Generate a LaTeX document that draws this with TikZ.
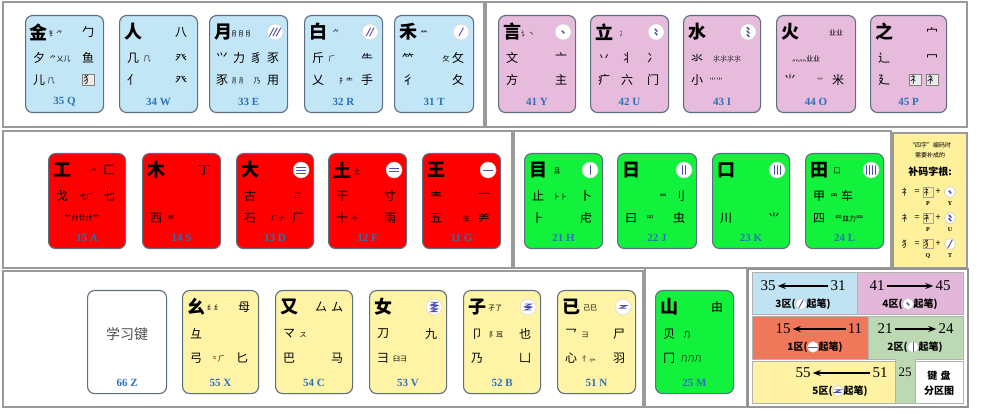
\documentclass[tikz,border=0pt]{standalone}
\usepackage{fontspec}
\setmainfont{Liberation Serif}
\newfontfamily\cjk{Noto Sans CJK SC}
\usetikzlibrary{arrows.meta}
\definecolor{kblue}{HTML}{C2E6F6}
\definecolor{kpink}{HTML}{E6BBDB}
\definecolor{kred}{HTML}{FF0000}
\definecolor{kgreen}{HTML}{12F23C}
\definecolor{kyel}{HTML}{FFF4A6}
\definecolor{kedge}{HTML}{5E6E80}
\definecolor{klab}{HTML}{2C72B8}
\definecolor{pframe}{HTML}{9A9A9A}
\definecolor{zblue}{HTML}{BFE3F3}
\definecolor{zpink}{HTML}{E3B7D9}
\definecolor{zred}{HTML}{F0785A}
\definecolor{zgreen}{HTML}{BDD9B3}
\definecolor{zyel}{HTML}{FFF3A3}
\definecolor{legy}{HTML}{FFF19C}
\newcounter{rc}
\tikzset{
  keyb/.style={draw=kedge,line width=1.1pt,rounded corners=7pt,inner sep=0pt,anchor=north west},
  pnl/.style={draw=pframe,line width=1.5pt},
  mainc/.style={font=\cjk\bfseries\fontsize{18}{18}\selectfont,inner sep=0pt},
  rtf/.style={font=\cjk\fontsize{12}{12}\selectfont,inner sep=0pt},
  sm/.style={font=\cjk\fontsize{7}{7}\selectfont,inner sep=0pt},
  bx/.style={font=\cjk\fontsize{10}{10}\selectfont,inner sep=1pt,draw=gray,fill=gray!15},
  lab/.style={font=\bfseries\fontsize{11}{11}\selectfont,text=klab,inner sep=0pt},
  icn/.style={circle,fill=white,draw=gray!40,minimum size=16pt,inner sep=0pt},
  icm/.style={circle,fill=white,draw=gray!50,minimum size=11pt,inner sep=0pt},
  ics/.style={draw=gray!60!blue,line width=0.9pt,line cap=round},
  zone/.style={anchor=north west,inner sep=0pt,draw=gray!60,line width=0.6pt},
  znum/.style={font=\fontsize{15}{15}\selectfont,inner sep=0pt},
  ztx/.style={font=\cjk\bfseries\fontsize{10}{10}\selectfont,inner sep=0pt},
  zar/.style={-{Stealth[length=8pt,width=6pt]},line width=1.4pt,shorten >=2pt,shorten <=2pt},
  lgt/.style={font=\cjk\fontsize{6}{6}\selectfont,inner sep=0pt},
  lgc/.style={font=\cjk\fontsize{9}{9}\selectfont,inner sep=0pt},
  lgl/.style={font=\bfseries\fontsize{6}{6}\selectfont,inner sep=0pt}
}
% key: name x y w h fill label
\newcommand\wk[7]{\node[keyb,fill=#6,minimum width=#4pt,minimum height=#5pt] (#1) at (#2,#3) {};
  \node[lab] (#1L) at ([shift={(0,-11)}]#1.south) {#7};}
\newcommand\mc[2]{\node[mainc] (#1M) at ([shift={(14,17)}]#1.north west) {#2};}
\newcommand\rt[4][rtf]{\stepcounter{rc}\node[#1] (r\arabic{rc}) at ([shift={(#3)}]#2.north west) {#4};}
\newcommand\icS[2]{\foreach \ii in {1,...,#2}{\pgfmathsetmacro\icd{(\ii-(#2+1)/2)*3.4}
  \draw[ics] ([shift={(\icd+2.2,-4)}]#1.center) -- ([shift={(\icd-2.2,4)}]#1.center);}}
\newcommand\icD[2]{\foreach \ii in {1,...,#2}{\pgfmathsetmacro\icd{(\ii-(#2+1)/2)*3.6}
  \draw[ics,line width=1.5pt] ([shift={(-1,\icd-1.1)}]#1.center) -- ([shift={(1,\icd+1.1)}]#1.center);}}
\newcommand\icH[2]{\foreach \ii in {1,...,#2}{\pgfmathsetmacro\icd{(\ii-(#2+1)/2)*3}
  \draw[ics] ([shift={(-4.5,\icd)}]#1.center) -- ([shift={(4.5,\icd)}]#1.center);}}
\newcommand\icV[2]{\foreach \ii in {1,...,#2}{\pgfmathsetmacro\icd{(\ii-(#2+1)/2)*3}
  \draw[ics] ([shift={(\icd,-4.5)}]#1.center) -- ([shift={(\icd,4.5)}]#1.center);}}
\newcommand\icF[2]{\foreach \ii in {1,...,#2}{\pgfmathsetmacro\icd{(\ii-(#2+1)/2)*3.4}
  \draw[ics] ([shift={(-3,\icd-1.3)}]#1.center) -- ([shift={(3,\icd-1.3)}]#1.center) -- ([shift={(-3,\icd+1.3)}]#1.center) -- ([shift={(3,\icd+1.3)}]#1.center);}}
% icon: [style] name position type n
\newcommand\icon[5][icn]{\node[#1] (#2) at (#3) {};\csname ic#4\endcsname{#2}{#5}}
\newcommand\kic[3]{\icon{#1I}{[shift={(-13,17)}]#1.north east}{#2}{#3}}
\begin{document}
\begin{tikzpicture}[x=1pt,y=-1pt]
\useasboundingbox[fill=white] (0,0) rectangle (989,414);
% panels
\draw[pnl] (3,2) rectangle (484,127);
\draw[pnl] (486,2) rectangle (967,127);
\draw[pnl] (3,131) rectangle (512,268);
\draw[pnl] (514,131) rectangle (891,268);
\draw[pnl,fill=legy] (893,133) rectangle (967,268);
\draw[pnl] (3,271) rectangle (643,407);
\draw[pnl] (645,268) rectangle (747,407);
% ---------- zone 3 (blue)
\wk{Q}{25}{15}{78}{97}{kblue}{35 Q}
\mc{Q}{金}\rt[sm]{Q}{31,19}{钅⺈}\rt{Q}{63,17}{勹}
\rt{Q}{14,43}{夕}\rt[sm]{Q}{35,44}{⺈乂儿}\rt{Q}{63,43}{鱼}
\rt{Q}{14,65}{儿}\rt[sm]{Q}{26,66}{⺇}\rt[bx]{Q}{63,65}{犭}
\wk{W}{119}{15}{78}{97}{kblue}{34 W}
\mc{W}{人}\rt{W}{62,17}{八}
\rt{W}{14,43}{几}\rt[sm]{W}{28,44}{⺇}\rt{W}{62,43}{癶}
\rt{W}{14,65}{亻}\rt{W}{62,65}{癶}
\wk{E}{209}{15}{78}{97}{kblue}{33 E}
\mc{E}{月}\rt[sm]{E}{33,19}{⺝⺝⺝}\kic{E}{S}{3}
\rt{E}{13,43}{⺍}\rt{E}{30,43}{力}\rt{E}{47,43}{豸}\rt{E}{64,43}{豕}
\rt{E}{13,65}{豕}\rt[sm]{E}{30,66}{⺼⺼}\rt[sm]{E}{48,66}{乃}\rt{E}{64,65}{用}
\wk{R}{304}{15}{78}{97}{kblue}{32 R}
\mc{R}{白}\rt[sm]{R}{32,18}{⺈}\kic{R}{S}{2}
\rt{R}{14,43}{斤}\rt[sm]{R}{28,44}{⺁}\rt{R}{63,43}{⺧}
\rt{R}{14,65}{乂}\rt[sm]{R}{42,66}{扌⺧}\rt{R}{63,65}{手}
\wk{T}{394}{15}{79}{97}{kblue}{31 T}
\mc{T}{禾}\rt[sm]{T}{30,19}{⺮}\kic{T}{S}{1}
\rt{T}{14,43}{⺮}\rt[sm]{T}{52,44}{⺙}\rt{T}{64,43}{攵}
\rt{T}{14,65}{彳}\rt{T}{64,65}{夂}
% ---------- zone 4 (pink)
\wk{Y}{498}{15}{77}{97}{kpink}{41 Y}
\mc{Y}{言}\rt[sm]{Y}{30,19}{讠丶}\kic{Y}{D}{1}
\rt{Y}{14,43}{文}\rt{Y}{63,43}{亠}
\rt{Y}{14,65}{方}\rt{Y}{63,65}{主}
\wk{U}{590}{15}{78}{97}{kpink}{42 U}
\mc{U}{立}\rt[sm]{U}{33,19}{冫}\kic{U}{D}{2}
\rt{U}{14,43}{丷}\rt{U}{37,43}{丬}\rt{U}{63,43}{冫}
\rt{U}{14,65}{疒}\rt{U}{37,65}{六}\rt{U}{63,65}{门}
\wk{I}{683}{15}{77}{97}{kpink}{43 I}
\mc{I}{水}\kic{I}{D}{3}
\rt{I}{14,43}{氺}\rt[sm]{I}{44,44}{⺢⺢⺢⺢}
\rt{I}{14,65}{小}\rt[sm]{I}{33,66}{⺌⺌}
\wk{O}{776}{15}{79}{97}{kpink}{44 O}
\mc{O}{火}\rt[sm]{O}{60,18}{业业}
\rt[sm]{O}{30,44}{灬灬业业}
\rt{O}{14,65}{⺌}\rt[sm]{O}{44,66}{⺌}\rt{O}{62,65}{米}
\wk{P}{870}{15}{76}{97}{kpink}{45 P}
\mc{P}{之}\rt{P}{62,17}{宀}
\rt{P}{14,43}{辶}\rt{P}{62,43}{冖}
\rt{P}{14,65}{廴}\rt[bx]{P}{45,65}{礻}\rt[bx]{P}{62,65}{衤}
% ---------- zone 1 (red)
\wk{A}{48}{153}{77}{95}{kred}{15 A}
\mc{A}{工}\rt[sm]{A}{46,19}{⺈}\rt{A}{61,17}{匚}
\rt{A}{14,43}{戈}\rt[sm]{A}{38,44}{弋⺁}\rt{A}{61,43}{七}
\rt[sm]{A}{34,65}{艹廾廿廾艹}
\wk{S}{142}{153}{78}{95}{kred}{14 S}
\mc{S}{木}\rt{S}{62,17}{丁}
\rt{S}{14,65}{西}\rt[sm]{S}{29,66}{覀}
\wk{D}{236}{153}{77}{95}{kred}{13 D}
\mc{D}{大}\kic{D}{H}{3}
\rt{D}{14,43}{古}\rt[sm]{D}{62,43}{三}
\rt{D}{14,65}{石}\rt[sm]{D}{42,66}{⺁ナ}\rt{D}{62,65}{厂}
\wk{F}{328}{153}{78}{95}{kred}{12 F}
\mc{F}{土}\rt[sm]{F}{29,19}{士}\kic{F}{H}{2}
\rt{F}{14,43}{干}\rt{F}{62,43}{寸}
\rt{F}{14,65}{十}\rt[sm]{F}{27,66}{十}\rt{F}{62,65}{雨}
\wk{G}{422}{153}{78}{95}{kred}{11 G}
\mc{G}{王}\kic{G}{H}{1}
\rt{G}{14,43}{龶}\rt{G}{62,43}{一}
\rt{G}{14,65}{五}\rt[sm]{G}{44,66}{戋}\rt{G}{62,65}{⺶}
% ---------- zone 2 (green)
\wk{H}{524}{153}{78}{95}{kgreen}{21 H}
\mc{H}{目}\rt[sm]{H}{33,18}{且}\kic{H}{V}{1}
\rt{H}{14,43}{止}\rt[sm]{H}{36,44}{⺊⺊}\rt{H}{62,43}{卜}
\rt{H}{14,65}{⺊}\rt{H}{62,65}{虍}
\wk{J}{617}{153}{79}{95}{kgreen}{22 J}
\mc{J}{日}\kic{J}{V}{2}
\rt[sm]{J}{46,44}{⺜}\rt{J}{62,43}{刂}
\rt{J}{14,65}{曰}\rt[sm]{J}{33,66}{罒}\rt{J}{62,65}{虫}
\wk{K}{712}{153}{77}{95}{kgreen}{23 K}
\mc{K}{口}\kic{K}{V}{3}
\rt{K}{14,65}{川}\rt{K}{62,65}{⺌}
\wk{L}{805}{153}{78}{95}{kgreen}{24 L}
\mc{L}{田}\rt[sm]{L}{32,18}{囗}\kic{L}{V}{4}
\rt{L}{14,43}{甲}\rt[sm]{L}{29,44}{⺫}\rt{L}{42,43}{车}
\rt{L}{14,65}{四}\rt[sm]{L}{44,66}{罒皿力⺲}
\wk{M}{655}{290}{78}{103}{kgreen}{25 M}
\mc{M}{山}\rt{M}{62,17}{由}
\rt{M}{14,44}{贝}\rt[sm]{M}{32,45}{⺆}
\rt{M}{14,68}{冂}\rt[sm]{M}{36,69}{⺆⺆⺆}
% ---------- zone 5 (yellow)
\wk{Z}{87}{290}{79}{103}{white}{66 Z}
\node[font=\cjk\fontsize{14}{14}\selectfont,text=black!70,inner sep=0pt] (ZT) at ([shift={(0,-8)}]Z.center) {学习键};
\wk{X}{182}{290}{76}{103}{kyel}{55 X}
\mc{X}{幺}\rt[sm]{X}{32,18}{纟纟}\rt{X}{62,17}{母}
\rt{X}{14,44}{彑}
\rt{X}{14,68}{弓}\rt[sm]{X}{36,69}{⺀⺁}\rt{X}{60,68}{匕}
\wk{C}{275}{290}{77}{103}{kyel}{54 C}
\mc{C}{又}\rt{C}{46,17}{厶}\rt{C}{62,17}{ム}
\rt{C}{14,44}{マ}\rt[sm]{C}{28,45}{ス}
\rt{C}{14,68}{巴}\rt{C}{62,68}{马}
\wk{V}{369}{290}{77}{103}{kyel}{53 V}
\mc{V}{女}\kic{V}{F}{3}
\rt{V}{14,44}{刀}\rt{V}{62,44}{九}
\rt{V}{14,68}{彐}\rt[sm]{V}{31,69}{臼⺕}
\wk{B}{463}{290}{77}{103}{kyel}{52 B}
\mc{B}{子}\rt[sm]{B}{32,18}{孑了}\kic{B}{F}{2}
\rt{B}{14,44}{卩}\rt[sm]{B}{33,45}{阝耳}\rt{B}{62,44}{也}
\rt{B}{14,68}{乃}\rt{B}{62,68}{凵}
\wk{N}{557}{290}{78}{103}{kyel}{51 N}
\mc{N}{已}\rt[sm]{N}{33,18}{己巳}\kic{N}{F}{1}
\rt{N}{14,44}{乛}\rt[sm]{N}{28,45}{⺕}\rt{N}{62,44}{尸}
\rt{N}{14,68}{心}\rt[sm]{N}{32,69}{忄⺗}\rt{N}{62,68}{羽}
% ---------- legend
\node[lgt] (lg1) at (930,145) {“四字”编码时};
\node[lgt] (lg2) at (930,155) {需要补成的};
\node[font=\cjk\bfseries\fontsize{10}{10}\selectfont,inner sep=0pt] (lg3) at (930,172) {补码字根:};
\foreach \rw/\yy/\ch/\la/\lb/\tp/\nn in {1/192/礻/P/Y/D/1, 2/218/衤/P/U/D/2, 3/244/犭/Q/T/S/1}{
  \node[lgc] (le\rw a) at (906,\yy) {\ch};
  \node[lgc] (le\rw b) at (917,\yy) {=};
  \node[lgc,draw=gray!70,inner sep=0.6pt] (le\rw c) at (928,\yy) {\ch};
  \node[lgc] (le\rw d) at (938,\yy) {+};
  \icon[icm]{le\rw e}{950,\yy}{\tp}{\nn}
  \node[lgl] (le\rw f) at ([shift={(0,12)}]le\rw c.center) {\la};
  \node[lgl] (le\rw g) at ([shift={(0,12)}]le\rw e.center) {\lb};
}
% ---------- zone map
\node[zone,fill=zblue,minimum width=105pt,minimum height=42pt] (Z3) at (752,272) {};
\node[zone,fill=zpink,minimum width=106pt,minimum height=42pt] (Z4) at (857,272) {};
\node[zone,fill=zred,minimum width=116pt,minimum height=43pt] (Z1) at (752,316) {};
\filldraw[fill=zgreen,draw=gray!60,line width=0.6pt] (868,316) -- (963,316) -- (963,359) -- (915,359) -- (915,403) -- (895,403) -- (895,359) -- (868,359) -- cycle;
\node[zone,fill=zyel,minimum width=143pt,minimum height=42pt] (Z5) at (752,361) {};
\node[zone,fill=white,minimum width=48pt,minimum height=42pt] (ZW) at (915,361) {};
\draw[pnl,line width=1.8pt,draw=gray!85] (748,269) rectangle (968,407);
\node[znum] (n35) at (768,286) {35};\node[znum] (n31) at (838,286) {31};\draw[zar] (n31) -- (n35);
\node[ztx] (t3) at (803,304) {3区(\hspace{11pt}起笔)};\icon[icm]{t3i}{[xshift=-2pt]t3.center}{S}{1}
\node[znum] (n41) at (877,286) {41};\node[znum] (n45) at (943,286) {45};\draw[zar] (n41) -- (n45);
\node[ztx] (t4) at (910,304) {4区(\hspace{11pt}起笔)};\icon[icm]{t4i}{[xshift=-2pt]t4.center}{D}{1}
\node[znum] (n15) at (783,329) {15};\node[znum] (n11) at (855,329) {11};\draw[zar] (n11) -- (n15);
\node[ztx] (t1) at (815,347) {1区(\hspace{11pt}起笔)};\icon[icm]{t1i}{[xshift=-2pt]t1.center}{H}{1}
\node[znum] (n21) at (885,329) {21};\node[znum] (n24) at (946,329) {24};\draw[zar] (n21) -- (n24);
\node[ztx] (t2) at (915,347) {2区(\hspace{11pt}起笔)};\icon[icm]{t2i}{[xshift=-2pt]t2.center}{V}{1}
\node[znum] (n55) at (803,373) {55};\node[znum] (n51) at (880,373) {51};\draw[zar] (n51) -- (n55);
\node[ztx] (t5) at (840,391) {5区(\hspace{11pt}起笔)};\icon[icm]{t5i}{[xshift=-2pt]t5.center}{F}{1}
\node[znum,font=\fontsize{13}{13}\selectfont] (n25) at (905,372) {25};
\node[ztx] (tw1) at (939,376) {键\,\,盘};
\node[ztx] (tw2) at (939,391) {分区图};
\end{tikzpicture}
\end{document}
